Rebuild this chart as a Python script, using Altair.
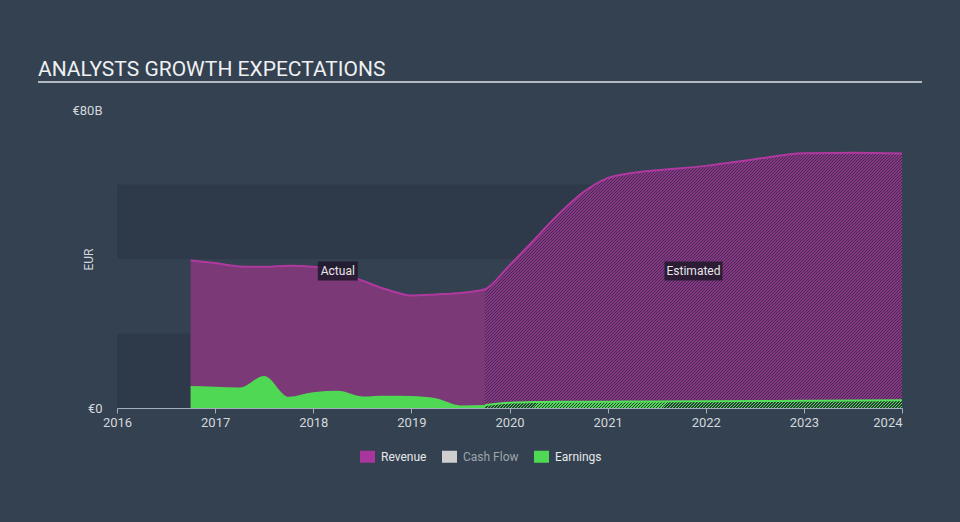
import altair as alt
import pandas as pd

# ---------------- data ----------------
title_text = ["ANALYSTS GROWTH EXPECTATIONS"]
series_names = ["Revenue", "Cash Flow", "Earnings"]
series_colors = ["#a8369c", "#cfcfcf", "#4fd853"]

actual_years = [2016.75, 2017.0, 2017.25, 2017.5, 2017.75, 2018.0, 2018.25,
                2018.5, 2018.75, 2019.0, 2019.25, 2019.5, 2019.75]
actual_revenue = [39.6, 38.9, 38.0, 37.9, 38.2, 37.9, 36.8,
                  34.2, 31.8, 30.2, 30.5, 30.9, 31.9]
actual_earnings = [5.9, 5.7, 5.5, 8.6, 3.0, 4.2, 4.6,
                   3.1, 3.3, 3.2, 2.6, 0.7, 0.8]

est_years = [2019.75, 2020.0, 2020.25, 2020.5, 2020.75, 2021.0, 2021.25, 2021.5,
             2022.0, 2022.5, 2023.0, 2023.5, 2024.0]
est_revenue = [31.9, 38.3, 45.1, 52.0, 57.9, 61.7, 63.1, 63.8,
               65.0, 66.8, 68.4, 68.5, 68.3]
est_earnings = [0.8, 1.4, 1.6, 1.65, 1.7, 1.7, 1.72, 1.75,
                1.8, 1.85, 1.95, 2.0, 2.1]

band_from = [0, 40]
band_to = [20, 60]

annotation_text = ["Actual", "Estimated"]
annotation_year = [2018.25, 2021.875]
annotation_value = [36.8, 36.8]

x_ticks = [2016, 2017, 2018, 2019, 2020, 2021, 2022, 2023, 2024]
y_ticks = [0, 80]
x_domain = [2016, 2024]
y_domain = [0, 80]

# ---------------- layout / style ----------------
PLOT_W, PLOT_H = 785, 298
BG = "#334150"
BAND = "#2e3a49"
TXT = "#d4d8dc"
FONT = "Roboto"


def diag_hatch(c_on, c_off, years, top_value, period_px=3.0, duty=0.45):
    w = (max(years) - min(years)) / (x_domain[1] - x_domain[0]) * PLOT_W
    h = top_value / (y_domain[1] - y_domain[0]) * PLOT_H
    r = h / w
    k = (1 + r) / (1 + r * r)
    n = int(round((w + h) / period_px))
    stops = []
    for i in range(n):
        a = i / n
        b = (i + duty) / n
        c = (i + 1) / n
        stops += [alt.GradientStop(offset=a, color=c_on),
                  alt.GradientStop(offset=b, color=c_on),
                  alt.GradientStop(offset=b, color=c_off),
                  alt.GradientStop(offset=c, color=c_off)]
    return alt.LinearGradient(gradient="linear", stops=stops,
                              x1=0, y1=0, x2=k, y2=k * r)


actual_df = pd.DataFrame({"year": actual_years, "revenue": actual_revenue,
                          "earnings": actual_earnings})
est_df = pd.DataFrame({"year": est_years, "revenue": est_revenue,
                       "earnings": est_earnings})
line_df = pd.DataFrame({"year": actual_years + est_years[1:],
                        "revenue": actual_revenue + est_revenue[1:]})
band_df = pd.DataFrame({"lo": band_from, "hi": band_to})
ann_df = pd.DataFrame({"text": annotation_text, "year": annotation_year,
                       "value": annotation_value})
ann_df["w"] = ann_df["text"].str.len() * 6.0 + 4
ann_df["size"] = ann_df["w"] ** 2
ann_df["shape"] = ann_df["w"].apply(
    lambda w: "M-1,-{0:.3f}L1,-{0:.3f}L1,{0:.3f}L-1,{0:.3f}Z".format(19.0 / w))
title_df = pd.DataFrame({"t": title_text})
legend_df = pd.DataFrame({"series": series_names})

xscale = alt.Scale(domain=x_domain, nice=False, zero=False)
yscale = alt.Scale(domain=y_domain, nice=False)

x_axis = alt.Axis(values=x_ticks, format="d", title=None, grid=False,
                  domainColor="#a6afb9", tickColor="#a6afb9", tickSize=5,
                  labelColor=TXT, labelFontSize=13, labelFont=FONT,
                  labelPadding=3, labelFlush=False,
                  labelAlign=alt.ExprRef(
                      expr="datum.value == 2024 ? 'right' : 'center'"))
y_axis = alt.Axis(values=y_ticks, title="EUR", grid=False, domain=False,
                  ticks=False, labelColor=TXT, labelFontSize=13, labelFont=FONT,
                  labelPadding=15,
                  labelExpr="datum.value == 0 ? '€0' : '€' + datum.value + 'B'",
                  titleColor=TXT, titleFontSize=12, titleFont=FONT,
                  titleFontWeight="normal", titleAngle=270, titleX=-22,
                  titleY=PLOT_H / 2, titleAlign="center", titleBaseline="bottom")

X = alt.X("year:Q", scale=xscale, axis=x_axis)


def Y(field):
    return alt.Y(field, scale=yscale, axis=y_axis)


bands = alt.Chart(band_df).mark_rect(color=BAND).encode(
    y=Y("lo:Q"), y2="hi:Q")

rev_actual = alt.Chart(actual_df).mark_area(
    interpolate="monotone", color="#7b3977").encode(x=X, y=Y("revenue:Q"))

rev_est = alt.Chart(est_df).mark_area(
    interpolate="monotone",
    fill=diag_hatch("#873683", "#452c53", est_years, max(est_revenue))).encode(
    x=X, y=Y("revenue:Q"))

earn_actual = alt.Chart(actual_df).mark_area(
    interpolate="monotone", color="#4fd853").encode(x=X, y=Y("earnings:Q"))

earn_est = alt.Chart(est_df).mark_area(
    interpolate="monotone",
    fill=diag_hatch("#4fd853", "#2c3f3c", est_years, max(est_earnings))).encode(
    x=X, y=Y("earnings:Q"))

rev_line = alt.Chart(line_df).mark_line(
    interpolate="monotone", color="#b0399f", strokeWidth=2).encode(
    x=X, y=Y("revenue:Q"))

earn_line = alt.Chart(est_df).mark_line(
    interpolate="monotone", color="#55e05a", strokeWidth=2).encode(
    x=X, y=Y("earnings:Q"))

ann_box = alt.Chart(ann_df).mark_point(
    filled=True, color="#20172a", opacity=0.85, strokeWidth=0).encode(
    x=X, y=Y("value:Q"),
    shape=alt.Shape("shape:N", scale=None, legend=None),
    size=alt.Size("size:Q", scale=None, legend=None))

ann_text = alt.Chart(ann_df).mark_text(
    color="#e8e8ea", fontSize=12, font=FONT, baseline="middle", align="center").encode(
    x=X, y=Y("value:Q"), text="text:N")

title_mark = alt.Chart(title_df).mark_text(
    align="left", baseline="alphabetic", fontSize=21, font=FONT,
    color="#eef0f2").encode(x=alt.value(-79), y=alt.value(-34), text="t:N")

title_rule = alt.Chart(title_df).mark_rule(
    color="#b3b9c0", strokeWidth=2).encode(
    x=alt.value(-79), x2=alt.value(805), y=alt.value(-28))

legend_layer = alt.Chart(legend_df).transform_filter("false").mark_point(
    filled=True).encode(
    color=alt.Color("series:N",
                    scale=alt.Scale(domain=series_names, range=series_colors),
                    legend=alt.Legend(
                        title=None, orient="none", legendX=243, legendY=339,
                        direction="horizontal",
                        symbolType="M-1,-0.8L1,-0.8L1,0.8L-1,0.8Z",
                        symbolSize=225, symbolStrokeWidth=0, symbolOpacity=1,
                        labelFont=FONT, labelFontSize=12,
                        labelColor=alt.ExprRef(
                            expr="datum.label == 'Cash Flow' ? '#9ea5ad' : '#e6e8ea'"),
                        labelOffset=6, columnPadding=15, padding=0)))

chart = alt.layer(
    bands, rev_actual, rev_est, earn_actual, earn_est, rev_line, earn_line,
    ann_box, ann_text, title_mark, title_rule, legend_layer
).properties(
    width=PLOT_W, height=PLOT_H,
    padding={"left": 117, "top": 110, "right": 58, "bottom": 114},
    autosize=alt.AutoSizeParams(type="none"),
).configure(background=BG, font=FONT).configure_view(strokeWidth=0)

chart.save("out.html", embed_options={"renderer": "svg", "actions": False})
